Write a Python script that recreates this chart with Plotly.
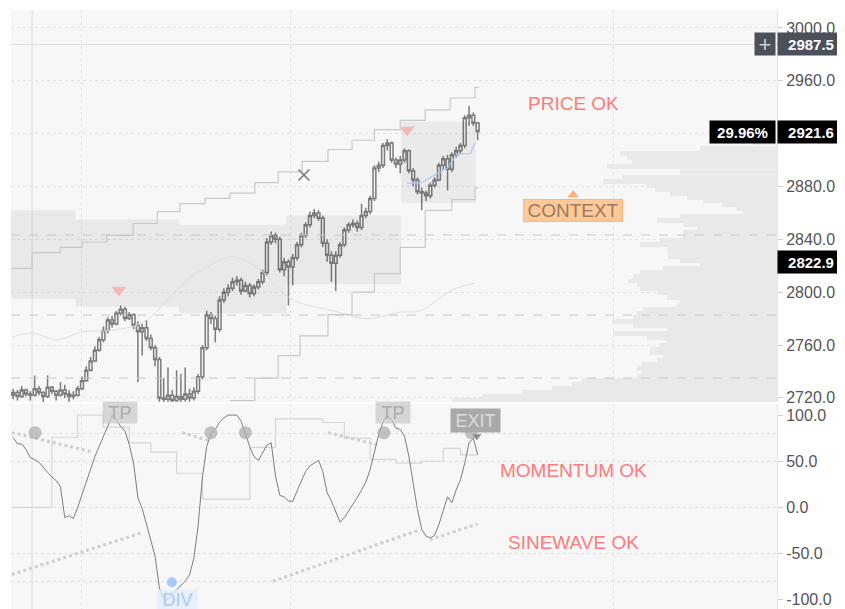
import plotly.graph_objects as go

# ---------------- data ----------------
idx = list(range(109))

open_ = [2722,2724,2721,2726,2723,2722,2727,2724,2721,2728,
         2725,2722,2726,2723,2721,2722,2727,2733,2741,2748,
         2756,2764,2771,2779,2776,2784,2787,2780,2783,2775,
         2770,2773,2765,2758,2749,2720,2719,2722,2718,2721,
         2719,2723,2720,2725,2736,2758,2783,2780,2772,2794,
         2800,2803,2808,2809,2801,2805,2799,2804,2808,2815,
         2838,2843,2840,2817,2823,2819,2826,2836,2843,2851,
         2858,2860,2856,2837,2828,2822,2828,2836,2847,2851,
         2852,2849,2858,2861,2871,2894,2896,2911,2913,2900,
         2897,2900,2907,2892,2885,2876,2875,2873,2881,2885,
         2896,2901,2893,2904,2907,2911,2932,2934,2928]
high = [2727,2726,2729,2727,2725,2737,2729,2725,2737,2729,
        2726,2732,2730,2726,2725,2729,2736,2744,2751,2759,
        2766,2774,2781,2782,2786,2790,2789,2785,2784,2778,
        2776,2779,2768,2760,2751,2735,2743,2726,2741,2738,
        2743,2727,2728,2738,2760,2786,2785,2782,2797,2803,
        2806,2811,2812,2811,2808,2807,2806,2810,2817,2841,
        2846,2845,2842,2826,2825,2829,2838,2845,2853,2861,
        2863,2862,2858,2840,2831,2831,2838,2849,2853,2855,
        2854,2867,2864,2873,2896,2899,2913,2916,2914,2902,
        2903,2909,2908,2894,2887,2879,2877,2883,2887,2898,
        2903,2904,2906,2910,2913,2934,2941,2936,2929]
low = [2719,2718,2720,2721,2718,2721,2722,2716,2720,2723,
       2718,2721,2720,2717,2719,2721,2726,2732,2740,2747,
       2755,2762,2769,2773,2775,2782,2778,2779,2772,2732,
       2752,2763,2756,2744,2717,2716,2717,2716,2717,2716,
       2717,2717,2718,2723,2734,2756,2776,2762,2770,2792,
       2797,2801,2805,2798,2800,2796,2797,2802,2806,2813,
       2836,2837,2815,2812,2790,2805,2824,2834,2841,2849,
       2856,2854,2834,2823,2808,2801,2826,2834,2845,2849,
       2846,2847,2856,2859,2869,2891,2894,2907,2898,2894,
       2890,2898,2890,2880,2874,2862,2869,2871,2879,2884,
       2893,2877,2891,2902,2905,2909,2926,2926,2915]
close = [2724,2721,2726,2723,2722,2727,2724,2721,2728,2725,
         2722,2726,2723,2721,2722,2727,2733,2741,2748,2756,
         2764,2771,2779,2776,2784,2787,2780,2783,2775,2770,
         2773,2765,2758,2749,2720,2719,2722,2718,2721,2719,
         2723,2720,2725,2736,2758,2783,2780,2772,2794,2800,
         2803,2808,2809,2801,2805,2799,2804,2808,2815,2838,
         2843,2840,2817,2823,2819,2826,2836,2843,2851,2858,
         2860,2856,2837,2828,2822,2828,2836,2847,2851,2852,
         2849,2858,2861,2871,2894,2896,2911,2913,2900,2897,
         2900,2907,2892,2885,2876,2875,2873,2881,2885,2896,
         2901,2893,2904,2907,2911,2932,2934,2928,2921.6]

# context band (step edges in bar index units)
band_x = [-0.5, 14.5, 38.5, 63.5, 90.2]
band_top = [2862, 2855, 2851, 2858, 2858]
band_bot = [2795, 2789, 2784, 2806, 2806]
box_x = [90.2, 107.6]
box_top = [2929, 2929]
box_bot = [2867.5, 2867.5]

# staircases
upper_x = [-0.5, 4.4, 10.9, 16.0, 21.8, 27.9, 33.5, 38.8, 44.6, 50.4, 56.2,
           61.6, 67.2, 73.2, 78.8, 84.0, 90.0, 95.8, 101.6, 107.4, 108.2]
upper_y = [2818, 2830, 2834, 2838, 2843, 2852, 2861, 2867, 2871, 2875, 2883,
           2891, 2899, 2908, 2915, 2923, 2930, 2938, 2947, 2955, 2955]
lower_x = [50.4, 56.2, 61.6, 66.7, 73.2, 78.8, 84.0, 90.0, 95.8, 102.0, 107.4, 108.2]
lower_y = [2718, 2735, 2752, 2767, 2783, 2800, 2814, 2834, 2862, 2870, 2879, 2879]

# faint average
ma_x = [-0.3, 4.6, 10.2, 16.2, 22.5, 30.2, 35.8, 41.1, 47.4, 51.1, 57.4,
        62.8, 66.7, 74.4, 82.3, 90.0, 94.6, 102.3, 107.4]
ma_y = [2766, 2769, 2764, 2770, 2771, 2777, 2794, 2811, 2823, 2827, 2817,
        2799, 2792, 2786, 2780, 2785, 2786, 2802, 2807]

# light blue trailing line
blue_x = [91.6, 94.6, 101.0, 103.2, 106.3, 107.4]
blue_y = [2882.5, 2882.5, 2894, 2904.5, 2905, 2913]

# volume profile (price bin, width)
vp_price = [2913,2909,2905,2902,2898,2895,2891,2887,2884,2881,2878,2875,2872,2869,
            2866,2863,2860,2857,2854,2851,2848,2845,2842,2839,2836,2833,2830,2827,
            2824,2821,2818,2815,2812,2808.5,2805.5,2802.5,2799.4,2796,2793,2790,
            2787,2784,2781,2778,2775,2772,2769,2766,2763,2760,2757,2754,2751,2748,
            2745,2742,2739,2736,2733,2730,2727,2724,2721,2718]
vp_width = [24,77,157,150,145,170,97,155,174,130,122,107,90,74,
            55,40,34,97,120,94,80,94,94,117,137,110,109,109,
            97,77,114,137,144,149,140,137,120,110,97,100,
            134,140,144,165,144,110,164,130,110,118,127,127,114,120,
            135,140,135,140,195,205,225,255,295,325]

levels = [2843.3, 2782.7, 2735.0]
top_line = 2987.5
diag_x = [164.4, 168.3]
diag_y = [2813, 2718.4]
price_ticks = [2720, 2760, 2800, 2840, 2880, 2920, 2960, 3000]
grid_x = [16.0, 64.4, 139.7]
session_x = 4.4

# oscillator panel
momentum = [75.5,69,68.6,62.8,53.8,52,49,43,38,33,
            29,22.4,-11,-9,-12,0,14,26.7,41,55,
            66,78,88,99.7,94.6,88,82.7,68,48,10.5,
            -1.4,-18,-35,-53,-87,-100,-100,-93.5,-89,-84,
            -80,-73,-55.6,-20,32,66,80,84.5,92.4,97,
            100,100,100,93.5,79,66,55,51,59,67.5,
            70,34,13,11.5,7,6.5,17.7,27.4,39,45,
            47.7,51,39,16,7,-4,-16,-11,-4,3,
            10.5,18.8,27.4,41,59,79,92.4,99.7,95,86,
            84.5,77,55.6,28.5,-2,-24,-31,-33,-30,-18.4,
            -2,11.5,5,19,30,48,70,75,57]
osc_step = [0,0,0,0,0,0,0,0,0,
            76,76,76,76,76,76,
            100,100,100,100,100,100,
            87,87,87,87,87,87,
            70,70,70,70,70,
            60,60,60,60,60,60,
            37,37,37,37,37,37,
            9,9,9,9,9,9,9,9,9,9,9,
            65,65,65,65,65,65,
            96,96,96,96,96,96,96,96,96,96,96,
            92,92,92,92,92,
            75,75,75,75,75,75,
            52,52,52,52,52,52,
            48,48,48,48,48,48,
            50,50,50,50,50,
            64,64,64,64,
            57,57,57,57,57]
sine_up_segments = [([-0.3, 18.6], [81, 60]), ([39.3, 45.8], [81, 72]), ([73.2, 84.6], [81, 68])]
sine_dn_segments = [([-0.3, 30.2], [-72.6, -27]), ([60.4, 94.6], [-80, -24]), ([96.9, 107.9], [-35, -18])]
dot_x = [5.1, 46, 54, 86.2, 106.5]
dot_y = [81, 81, 81, 81, 81]
osc_levels = [80, 50, 0, -50, -80]
osc_ticks = [-100, -50, 0, 50, 100]

FONT = "Liberation Sans, Arial, sans-serif"
RED = "#ff7b7b"

fig = go.Figure()

def sc(**kw):
    kw.setdefault("hoverinfo", "skip")
    kw.setdefault("showlegend", False)
    fig.add_trace(go.Scatter(**kw))

# bands
sc(x=band_x, y=band_bot, mode="lines", line=dict(width=0, shape="hv"))
sc(x=band_x, y=band_top, mode="lines", line=dict(width=0, shape="hv"),
   fill="tonexty", fillcolor="rgba(0,0,0,0.055)")
sc(x=box_x, y=box_bot, mode="lines", line=dict(width=0, shape="hv"))
sc(x=box_x, y=box_top, mode="lines", line=dict(width=0, shape="hv"),
   fill="tonexty", fillcolor="rgba(0,0,0,0.05)")

# faint MA and staircases
sc(x=ma_x, y=ma_y, mode="lines", line=dict(color="#dedede", width=1, shape="spline"))
sc(x=upper_x, y=upper_y, mode="lines", line=dict(color="#c9c9c9", width=1.2, shape="hv"))
sc(x=lower_x, y=lower_y, mode="lines", line=dict(color="#c9c9c9", width=1.2, shape="hv"))

# candles
fig.add_trace(go.Candlestick(
    x=idx, open=open_, high=high, low=low, close=close,
    increasing=dict(line=dict(color="#7c7c7c", width=1.5), fillcolor="#f2f2f2"),
    decreasing=dict(line=dict(color="#7c7c7c", width=1.5), fillcolor="#f2f2f2"),
    whiskerwidth=0, hoverinfo="skip", showlegend=False))

sc(x=blue_x, y=blue_y, mode="lines", line=dict(color="#a9c7f3", width=1.2))

# volume profile on overlay axis
fig.add_trace(go.Bar(y=vp_price, x=vp_width, orientation="h", width=3.7,
                     marker=dict(color="#e9e9e9", line=dict(width=0)),
                     xaxis="x3", yaxis="y", hoverinfo="skip", showlegend=False))

# markers top
sc(x=[24.6, 91.6], y=[2801.7, 2922.8], mode="markers",
   marker=dict(symbol="triangle-down", size=13, color="#f6b9b9"))
sc(x=[67.6], y=[2888.7], mode="markers",
   marker=dict(symbol="x-thin", size=11, line=dict(color="#7a7a7a", width=1.6)))
sc(x=[130.2], y=[2873.5], mode="markers",
   marker=dict(symbol="triangle-up", size=10, color="#ffb27a"))
sc(x=diag_x, y=diag_y, mode="lines", line=dict(color="#c4c4c4", width=1, dash="dash"))

# oscillator
sc(x=idx, y=osc_step, mode="lines", line=dict(color="#d6d6d6", width=1.2, shape="hv"),
   xaxis="x2", yaxis="y2")
for sx, sy in sine_up_segments + sine_dn_segments:
    sc(x=sx, y=sy, mode="lines", line=dict(color="#cfcfcf", width=3, dash="dot"),
       xaxis="x2", yaxis="y2")
sc(x=idx, y=momentum, mode="lines", line=dict(color="#7d7d7d", width=1),
   xaxis="x2", yaxis="y2")
sc(x=dot_x, y=dot_y, mode="markers", marker=dict(size=13, color="rgba(175,175,175,0.75)"),
   xaxis="x2", yaxis="y2")
sc(x=[36.9], y=[-81], mode="markers", marker=dict(size=10, color="#a8c8ff"),
   xaxis="x2", yaxis="y2")
sc(x=[107.8], y=[77], mode="markers", marker=dict(symbol="triangle-down", size=8, color="#8c8c8c"),
   xaxis="x2", yaxis="y2")

# shapes
shapes = []
for lv in levels:
    shapes.append(dict(type="line", xref="paper", x0=0, x1=1, yref="y", y0=lv, y1=lv,
                       line=dict(color="#c8c8c8", width=1, dash="dash")))
shapes.append(dict(type="line", xref="paper", x0=0, x1=1, yref="y", y0=top_line, y1=top_line,
                   line=dict(color="#e0e0e0", width=1.2)))
for lv in osc_levels:
    shapes.append(dict(type="line", xref="paper", x0=0, x1=1, yref="y2", y0=lv, y1=lv,
                       line=dict(color="#dedede", width=1, dash="dot"), layer="below"))
shapes.append(dict(type="line", xref="x", x0=session_x, x1=session_x, yref="paper", y0=0, y1=1,
                   line=dict(color="#e2e2e2", width=1.2), layer="below"))

# annotations
ann = []
def txt(text, x, y, xref, yref, size=19, color=RED, **kw):
    d = dict(text=text, x=x, y=y, xref=xref, yref=yref, showarrow=False,
             font=dict(family=FONT, size=size, color=color))
    d.update(kw)
    ann.append(d)

txt("PRICE OK", 130.2, 2943.2, "x", "y")
txt("CONTEXT", 130.2, 2862, "x", "y", color="#9a7b5f", bgcolor="#ffc898",
    bordercolor="#ffb57a", borderwidth=1, width=96, height=19, borderpad=1)
txt("MOMENTUM OK", 130.2, 40, "x2", "y2")
txt("SINEWAVE OK", 130.2, -38, "x2", "y2")
txt("TP", 24.9, 103, "x2", "y2", size=18, color="#ababab", bgcolor="rgba(200,200,200,0.7)",
    width=32, height=19, borderpad=1)
txt("TP", 88.3, 103, "x2", "y2", size=18, color="#ababab", bgcolor="rgba(200,200,200,0.7)",
    width=32, height=19, borderpad=1)
txt("EXIT", 107.6, 94, "x2", "y2", size=18, color="#dcdcdc", bgcolor="#a9a9a9",
    width=47, height=21, borderpad=1)
txt("DIV", 38.1, -100, "x2", "y2", size=18, color="#a8c8f8", bgcolor="rgba(225,236,252,0.8)",
    width=37, height=17, borderpad=1)

BOXF = dict(family=FONT, size=15, color="white")
XR = 1.0888  # right edge of the page in paper units
ann.append(dict(text="<b>2987.5</b>", x=XR, xanchor="right", y=top_line, xref="paper", yref="y",
                showarrow=False, font=BOXF, bgcolor="#4b505b", width=62, height=18, borderpad=2, align="center"))
ann.append(dict(text="+", x=1, xanchor="right", xshift=-1, y=top_line, xref="paper", yref="y",
                showarrow=False, font=dict(family=FONT, size=22, color="#cfcfcf"), bgcolor="#4b505b",
                width=16, height=18, borderpad=2))
ann.append(dict(text="<b>29.96%</b>", x=1, xanchor="right", xshift=-1, y=2921.6, xref="paper", yref="y",
                showarrow=False, font=BOXF, bgcolor="#000000", width=61, height=18, borderpad=2, align="center"))
ann.append(dict(text="<b>2921.6</b>", x=XR, xanchor="right", y=2921.6, xref="paper", yref="y",
                showarrow=False, font=BOXF, bgcolor="#000000", width=62, height=18, borderpad=2, align="center"))
ann.append(dict(text="<b>2822.9</b>", x=XR, xanchor="right", y=2822.9, xref="paper", yref="y",
                showarrow=False, font=BOXF, bgcolor="#000000", width=62, height=18, borderpad=2, align="center"))

xcommon = dict(range=[-0.5, 177.6], showticklabels=False, ticks="", tickvals=grid_x,
               showgrid=True, gridcolor="#e4e4e4", griddash="dot", zeroline=False, showline=False)
ycommon = dict(side="right", ticks="outside", ticklen=5, tickcolor="#cccccc",
               tickfont=dict(family=FONT, size=16, color="#555555"), automargin=False,
               showline=True, linecolor="#e4e4e4", zeroline=False)

# page body has an 8px default margin: size the figure so the plot lands where the reference has it
fig.update_layout(
    width=837, height=601,
    margin=dict(l=3, r=68, t=2, b=0, autoexpand=False),
    paper_bgcolor="white", plot_bgcolor="#f7f7f7",
    showlegend=False, hovermode=False, bargap=0, boxgap=0.05,
    xaxis=dict(domain=[0, 1], anchor="y", rangeslider=dict(visible=False), automargin=False, **xcommon),
    xaxis2=dict(domain=[0, 1], anchor="y2", matches="x", automargin=False, **xcommon),
    xaxis3=dict(overlaying="x", anchor="y", range=[766, 0], visible=False),
    yaxis=dict(domain=[0.3456, 1], range=[2716.9, 3013.6], tickvals=price_ticks,
               ticktext=[f"{v:.1f}" for v in price_ticks], showgrid=True,
               gridcolor="#e2e2e2", griddash="dot", **ycommon),
    yaxis2=dict(domain=[0, 0.3422], range=[-110, 112], tickvals=osc_ticks,
                ticktext=[f"{v:.1f}" for v in osc_ticks], showgrid=False, **ycommon),
    shapes=shapes, annotations=ann,
)

fig.write_html("out.html")
